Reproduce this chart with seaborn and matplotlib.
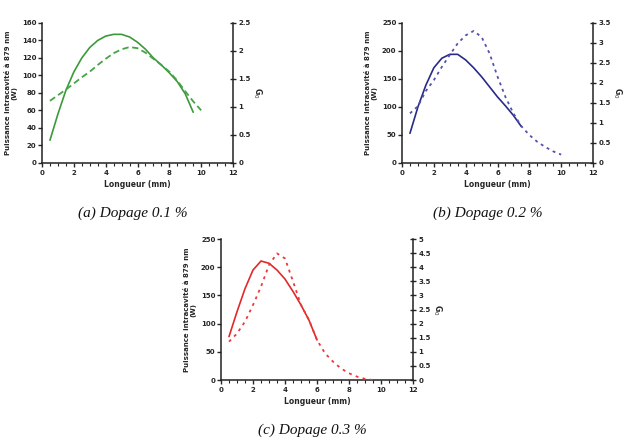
"""
Puissance intracavite et G0 en fonction de la longueur du cristal
pour trois dopages (0.1 %, 0.2 %, 0.3 %)
"""
import numpy as np
import matplotlib
matplotlib.use("Agg")
import matplotlib.pyplot as plt
from matplotlib.ticker import MultipleLocator
import seaborn as sns

sns.set_style(style='white')
plt.rcParams['font.family'] = ['DejaVu Sans']

# data
# dopage 0.1 %
len_a_p = [0.5, 1, 1.5, 2, 2.5, 3, 3.5, 4, 4.5, 5, 5.5, 6, 6.5, 7, 7.5, 8, 8.5, 9, 9.5]
pow_a = [26, 56, 83, 104, 120, 132, 140, 145, 147, 147, 144, 138, 130, 120, 112, 103, 93, 79, 58]
len_a_g = [0.5, 1, 1.5, 2, 2.5, 3, 3.5, 4, 4.5, 5, 5.5, 6, 6.5, 7, 7.5, 8, 8.5, 9, 9.5, 10]
g0_a = [1.11, 1.21, 1.31, 1.42, 1.53, 1.63, 1.75, 1.86, 1.96, 2.03, 2.07, 2.05, 1.97, 1.86, 1.75, 1.63, 1.47, 1.28, 1.1, 0.94]

# dopage 0.2 %
len_b_p = [0.5, 1, 1.5, 2, 2.5, 3, 3.5, 4, 4.5, 5, 5.5, 6, 6.5, 7, 7.5]
pow_b = [53, 100, 139, 170, 187, 194, 194, 184, 170, 154, 136, 118, 102, 85, 65]
len_b_g = [0.5, 1, 1.5, 2, 2.5, 3, 3.5, 4, 4.5, 5, 5.5, 6, 6.5, 7, 7.5, 8, 8.5, 9, 9.5, 10]
g0_b = [1.24, 1.42, 1.8, 2.07, 2.4, 2.7, 2.99, 3.19, 3.3, 3.15, 2.74, 2.16, 1.65, 1.24, 0.92, 0.7, 0.53, 0.4, 0.29, 0.21]

# dopage 0.3 %
len_c_p = [0.5, 1, 1.5, 2, 2.5, 3, 3.5, 4, 4.5, 5, 5.5, 6]
pow_c = [77, 121, 162, 195, 211, 207, 195, 179, 157, 133, 106, 71]
len_c_g = [0.5, 1, 1.5, 2, 2.5, 3, 3.5, 4, 4.5, 5, 5.5, 6, 6.5, 7, 7.5, 8, 8.5, 9, 9.5]
g0_c = [1.36, 1.65, 2.07, 2.66, 3.31, 4.08, 4.49, 4.31, 3.5, 2.66, 2.13, 1.42, 0.95, 0.65, 0.41, 0.24, 0.12, 0.04, 0.0]

panels = [
    dict(xp=len_a_p, yp=pow_a, xg=len_a_g, yg=g0_a, color='#3a9a3a', gcolor='#45a445',
         ymax=160, ystep=20, gmax=2.5, dash=(3.5, 2),
         rect=[0.0672, 0.6304, 0.3056, 0.3175], caption='(a) Dopage 0.1 %',
         cap_xy=(0.213, 0.517)),
    dict(xp=len_b_p, yp=pow_b, xg=len_b_g, yg=g0_b, color='#2a2a88', gcolor='#5252aa',
         ymax=250, ystep=50, gmax=3.5, dash=(1.6, 2.2),
         rect=[0.6432, 0.6304, 0.3056, 0.3175], caption='(b) Dopage 0.2 %',
         cap_xy=(0.781, 0.517)),
    dict(xp=len_c_p, yp=pow_c, xg=len_c_g, yg=g0_c, color='#e02a2a', gcolor='#ee3838',
         ymax=250, ystep=50, gmax=5, dash=(1.6, 2.4),
         rect=[0.3536, 0.1383, 0.3072, 0.3197], caption='(c) Dopage 0.3 %',
         cap_xy=(0.499, 0.025)),
]

fig = plt.figure(figsize=(6.25, 4.41), dpi=100)

for p in panels:
    ax = fig.add_axes(p['rect'])
    ax2 = ax.twinx()

    sns.lineplot(x=p['xp'], y=p['yp'], ax=ax, color=p['color'], lw=1.2)
    line = sns.lineplot(x=p['xg'], y=p['yg'], ax=ax2, color=p['gcolor'], lw=1.3)
    line.lines[0].set_dashes(p['dash'])

    ax.set_xlim(0, 12)
    ax.set_ylim(0, p['ymax'])
    ax2.set_ylim(0, p['gmax'])
    ax.xaxis.set_major_locator(MultipleLocator(2))
    ax.xaxis.set_minor_locator(MultipleLocator(0.5))
    ax.yaxis.set_major_locator(MultipleLocator(p['ystep']))
    ax2.yaxis.set_major_locator(MultipleLocator(0.5))

    for s in ['top', 'right']:
        ax.spines[s].set_visible(False)
    for s in ['top', 'left', 'bottom']:
        ax2.spines[s].set_visible(False)
    for a in (ax, ax2):
        for s in a.spines.values():
            s.set_linewidth(1.1)
            s.set_color('#222222')

    ax.tick_params(axis='x', which='major', direction='out', length=3, width=1, pad=2, bottom=True)
    ax.tick_params(axis='x', which='minor', direction='out', length=2, width=0.8, bottom=True)
    ax.tick_params(axis='y', direction='out', length=3, width=1, pad=1, left=True)
    ax2.tick_params(axis='y', direction='inout', length=5, width=1, pad=1.5, right=True)

    ax2.yaxis.set_major_formatter(plt.FuncFormatter(lambda v, pos: f"{v:g}"))
    for lab in ax.get_xticklabels() + ax.get_yticklabels() + ax2.get_yticklabels():
        lab.set_fontsize(5)
        lab.set_fontweight('bold')

    ax.set_xlabel('Longueur (mm)', fontsize=5.5, fontweight='bold', labelpad=3)
    ax.set_ylabel('Puissance intracavité à 879 nm\n(W)', fontsize=5,
                  fontweight='bold', labelpad=3, linespacing=1.1)
    ax2.set_ylabel('G$_0$', fontsize=5.5, fontweight='bold', rotation=270, labelpad=9)

    fig.text(p['cap_xy'][0], p['cap_xy'][1], p['caption'], ha='center', va='center',
             fontsize=11, style='italic', family='Liberation Serif', color='#111111')

fig.savefig('out.png', dpi=100)
